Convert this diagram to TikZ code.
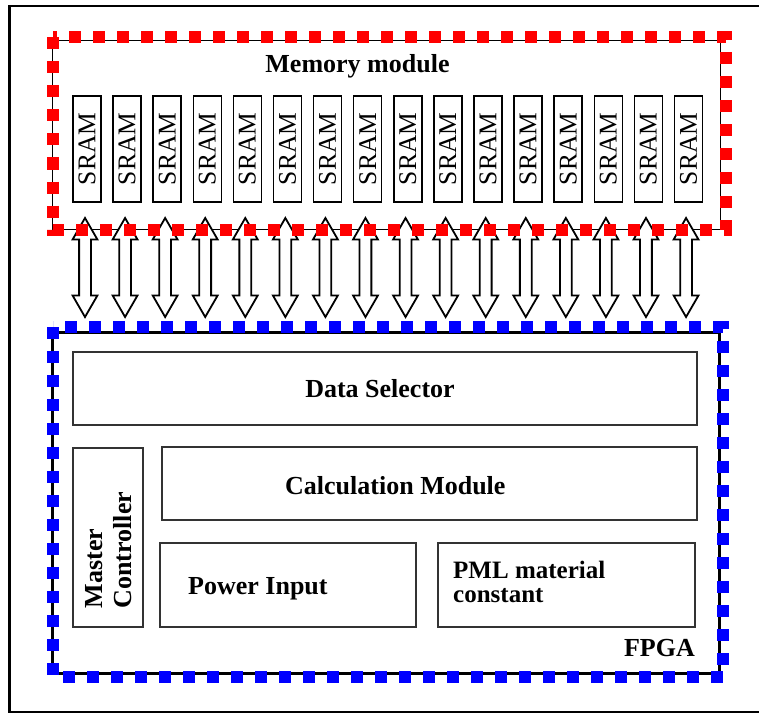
\documentclass[tikz,border=0pt]{standalone}
\usepackage{fontspec}
\setmainfont{Liberation Serif}
\usetikzlibrary{shapes.arrows}
\definecolor{memRed}{RGB}{255,0,0}
\definecolor{fpgaBlue}{RGB}{0,0,255}
\definecolor{boxGray}{RGB}{51,51,51}
\tikzset{
  outerframe/.style={draw=black, line width=2.5},
  memline/.style={draw=black, line width=1, inner sep=0},
  memdots/.style={draw=memRed, line width=12, dash pattern=on 12 off 12},
  fpgaline/.style={draw=black, line width=3, inner sep=0},
  fpgadots/.style={draw=fpgaBlue, line width=12, dash pattern=on 12 off 12},
  sram/.style={draw=black, line width=1.5, rotate=90, minimum width=106, minimum height=28,
    inner sep=0, font=\fontsize{25.5}{28}\selectfont},
  unit/.style={draw=boxGray, line width=1.2, inner sep=0},
  lbl/.style={inner sep=0, font=\fontsize{26}{29}\selectfont\bfseries},
  busarrow/.style={double arrow, draw=black, line width=1.8, fill=white, rotate=90,
    minimum height=99, inner sep=5, double arrow head extend=6.5, double arrow tip angle=60}
}

\begin{document}
\begin{tikzpicture}[x=1pt,y=-1pt]
    \useasboundingbox (0,0) rectangle (759,714);
    \draw[outerframe] (9.5,6) rectangle (775,712);
    % memory side
    \node[memline, minimum width=668, minimum height=188] (memory) at (386,135) {};
    \node[lbl, anchor=base] (memtitle) at (357.5,73) {Memory module};
    \foreach \i in {0,...,15} {
      \node[sram] (sram\i) at ({87+40.1*\i},149) {SRAM};
      \node[busarrow] (bus\i) at ({85+40.07*\i},267.5) {};
    }
    \draw[memdots] (52.5,37.5) rectangle (726,230);
    % fpga side
    \node[fpgaline, minimum width=667, minimum height=341] (fpga) at (385.5,502.5) {};
    \node[unit, minimum width=624, minimum height=73] (selector) at (385,388.5) {};
    \node[lbl, anchor=base] (selectortxt) at (380,397) {Data Selector};
    \node[unit, minimum width=535, minimum height=73] (calcmod) at (429.5,483.5) {};
    \node[lbl, anchor=base west] (calcmodtxt) at (285,494) {Calculation Module};
    \node[unit, minimum width=70, minimum height=179] (master) at (108,537.5) {};
    \node[lbl, rotate=90, align=left] (mastertxt) at (108.5,550) {Master\\Controller};
    \node[unit, minimum width=256, minimum height=84] (power) at (288,585) {};
    \node[lbl, anchor=base west] (powertxt) at (188,594) {Power Input};
    \node[unit, minimum width=257, minimum height=84] (pml) at (566.5,585) {};
    \node[lbl, anchor=north west, align=left, font=\fontsize{25}{24}\selectfont\bfseries]
      (pmltxt) at (453,561) {PML material\\constant};
    \node[lbl, anchor=base east] (fpgatxt) at (695,656) {FPGA};
    \draw[fpgadots] (53,327) rectangle (723,677);
  \end{tikzpicture}
\end{document}
